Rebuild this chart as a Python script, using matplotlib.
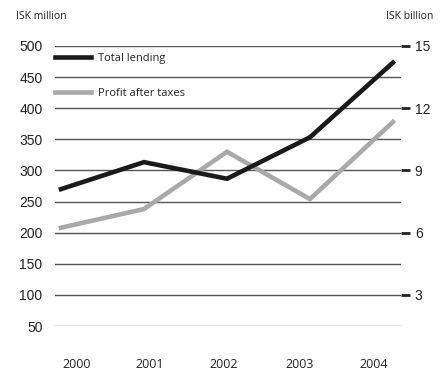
import matplotlib
matplotlib.use("Agg")
import matplotlib.pyplot as plt

# Lending and profit by year
years = ["2000", "2001", "2002", "2003", "2004"]
total_lending = [8.1, 9.4, 8.6, 10.6, 14.2]        # ISK billion (right axis)
profit_after_taxes = [208, 238, 330, 254, 378]   # ISK million (left axis)

left_ticks = [50, 100, 150, 200, 250, 300, 350, 400, 450, 500]
right_ticks = [3, 6, 9, 12, 15]

num_font = "Liberation Sans"
txt_font = "Open Sans"

fig = plt.figure(figsize=(4.44, 3.8), dpi=100)
ax = fig.add_axes([0.124, 0.142, 0.779, 0.737])
ax2 = ax.twinx()

x = list(range(len(years)))

ax.set_ylim(50, 500)
ax.set_xlim(-0.072, 4.096)
ax2.set_ylim(1.5, 15)

for v in left_ticks:
    ax.axhline(v, color="#555555", lw=1.0, zorder=1)

ax.plot(x, profit_after_taxes, color="#a9a9a9", lw=3.3, zorder=3,
        solid_joinstyle="miter", clip_on=False, label="Profit after taxes")
ax2.plot(x, total_lending, color="#1a1a1a", lw=3.3, zorder=3,
         solid_joinstyle="miter", clip_on=False, label="Total lending")

for a in (ax, ax2):
    for s in a.spines.values():
        s.set_visible(False)

ax.set_yticks(left_ticks)
ax.set_yticklabels([str(v) for v in left_ticks], fontsize=10, family=num_font,
                   color="#222222")
ax.tick_params(axis="y", length=0, pad=9)

# year labels sit on their own spacing, independent of the data points
ax.set_xticks([0.19, 1.07, 1.96, 2.87, 3.77])
ax.set_xticklabels(years, fontsize=9, family=txt_font, color="#222222")
ax.tick_params(axis="x", length=0, pad=23)

ax2.set_yticks(right_ticks)
ax2.set_yticklabels([str(v) for v in right_ticks], fontsize=10,
                    family=num_font, color="#222222")
ax2.tick_params(axis="y", direction="out", length=6.5, width=2,
                color="#222222", pad=3.5)

ax.patch.set_visible(False)
ax2.set_zorder(ax.get_zorder() + 1)

fig.text(0.036, 0.957, "ISK million", fontsize=7.5, family=txt_font,
         color="#222222", va="center", ha="left")
fig.text(0.977, 0.957, "ISK billion", fontsize=7.5, family=txt_font,
         color="#222222", va="center", ha="right")

h1, l1 = ax2.get_legend_handles_labels()
h2, l2 = ax.get_legend_handles_labels()
leg = ax2.legend(h1 + h2, l1 + l2, loc="upper left",
                 bbox_to_anchor=(-0.028, 1.012), frameon=False,
                 handlelength=3.2, handletextpad=0.6, labelspacing=2.2,
                 prop={"family": txt_font, "size": 8})
for t in leg.get_texts():
    t.set_color("#222222")

fig.savefig("out.png", dpi=100, facecolor="white")
